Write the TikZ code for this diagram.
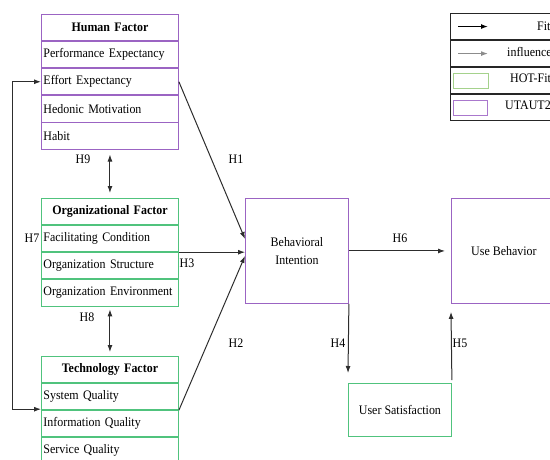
\documentclass[tikz,border=0pt]{standalone}
\usepackage{fontspec}
\setmainfont{Liberation Serif}[FakeStretch=0.92]
\usetikzlibrary{positioning,arrows.meta}
\definecolor{utaut}{RGB}{155,100,195}
\definecolor{hotfit}{RGB}{80,195,125}
\definecolor{legutaut}{RGB}{170,120,205}
\definecolor{leghotfit}{RGB}{165,210,140}
\definecolor{lnk}{RGB}{45,45,45}
\tikzset{
  row/.style={draw=#1, line width=0.9pt, minimum width=137pt, minimum height=26.2pt, text width=133pt, inner sep=2pt, align=left, font=\fontsize{13}{15}\selectfont},
  hdr/.style={row=#1, align=center, font=\fontsize{13}{15}\selectfont\bfseries},
  blk/.style={draw=#1, line width=0.9pt, minimum width=103pt, minimum height=105pt, inner sep=0pt, align=center, anchor=north west, font=\fontsize{13}{15}\selectfont},
  lbl/.style={font=\fontsize{13}{15}\selectfont, inner sep=0pt},
  legrow/.style={draw=black!85, line width=0.8pt, minimum width=110pt, minimum height=26.25pt, inner sep=0pt, anchor=north west},
  link/.style={draw=lnk, line width=1pt}
}
\begin{document}
\begin{tikzpicture}[x=1pt, y=-1pt, >={Latex[length=7pt,width=5pt]}]
\useasboundingbox (0,0) rectangle (550,459);

\node[hdr=utaut, anchor=north west] (hf) at (41,14) {Human Factor};
\node[row=utaut, below=0pt of hf] (pe) {Performance Expectancy};
\node[row=utaut, below=0pt of pe] (ee) {Effort Expectancy};
\node[row=utaut, below=0pt of ee] (hm) {Hedonic Motivation};
\node[row=utaut, below=0pt of hm] (ha) {Habit};

\node[hdr=hotfit, anchor=north west] (of) at (41,198) {Organizational Factor};
\node[row=hotfit, below=0pt of of] (fc) {Facilitating Condition};
\node[row=hotfit, below=0pt of fc] (os) {Organization Structure};
\node[row=hotfit, below=0pt of os] (oe) {Organization Environment};

\node[hdr=hotfit, anchor=north west] (tf) at (41,356) {Technology Factor};
\node[row=hotfit, below=0pt of tf] (sq) {System Quality};
\node[row=hotfit, below=0pt of sq] (iq) {Information Quality};
\node[row=hotfit, below=0pt of iq] (sv) {Service Quality};

\node[blk=utaut] (bi) at (245,198) {Behavioral\\[3pt]Intention};
\node[blk=utaut, minimum width=105pt] (ub) at (451,198) {Use Behavior};
\node[blk=hotfit, minimum height=53pt] (us) at (348,383) {User Satisfaction};

\draw[->, link] (ee.east) -- ([yshift=12pt]bi.west);
\draw[->, link] (fc.south east) -- (fc.south east -| bi.west);
\draw[->, link] (sq.south east) -- ([yshift=-5pt]bi.west);
\draw[->, link] (bi.east) -- ([xshift=-6pt]ub.west);
\draw[->, link] (bi.south east) -- ([yshift=10pt]us.north west);
\draw[->, link] ([yshift=3pt]us.north east) -- ([yshift=-8pt]ub.south west);
\draw[<->, link] ([yshift=-5pt]ha.south) -- ([yshift=5pt]of.north);
\draw[<->, link] ([yshift=-3pt]oe.south) -- ([yshift=4pt]tf.north);
\draw[<->, link] (ee.west) -- ++(-29pt,0) |- ([yshift=1pt]sq.south west);

\node[lbl] (h1) at (236,159) {H1};
\node[lbl] (h2) at (236,343) {H2};
\node[lbl] (h3) at (187,263) {H3};
\node[lbl] (h4) at (338,343) {H4};
\node[lbl] (h5) at (460,343) {H5};
\node[lbl] (h6) at (400,238) {H6};
\node[lbl] (h7) at (32,238) {H7};
\node[lbl] (h8) at (87,317) {H8};
\node[lbl] (h9) at (83,159) {H9};

\node[legrow] (lg1) at (450,13) {};
\node[legrow, below=0pt of lg1] (lg2) {};
\node[legrow, below=0pt of lg2] (lg3) {};
\node[legrow, below=0pt of lg3] (lg4) {};
\draw[->, draw=black, line width=1.2pt] ([xshift=8pt]lg1.west) -- ++(30pt,0);
\draw[->, draw=black!45, line width=1.2pt] ([xshift=8pt]lg2.west) -- ++(30pt,0);
\node[draw=leghotfit, line width=1pt, minimum width=35pt, minimum height=15pt, anchor=west] (sw1) at ([xshift=3pt]lg3.west) {};
\node[draw=legutaut, line width=1pt, minimum width=34pt, minimum height=15pt, anchor=west] (sw2) at ([xshift=3pt]lg4.west) {};
\node[lbl, anchor=west] (t1) at (537,26) {Fit};
\node[lbl, anchor=west] (t2) at (507,52) {influence};
\node[lbl, anchor=west] (t3) at (510,78) {HOT-Fit};
\node[lbl, anchor=west] (t4) at (505,105) {UTAUT2};
\end{tikzpicture}
\end{document}
